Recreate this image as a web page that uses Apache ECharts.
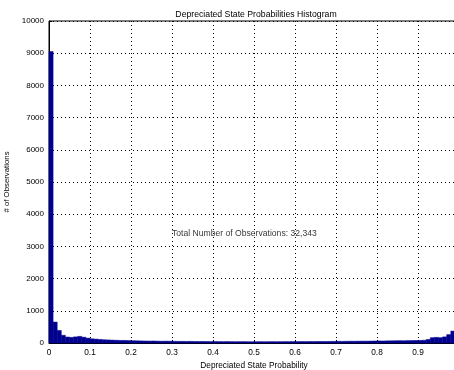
<!DOCTYPE html>
<html>
<head>
<meta charset="utf-8">
<script src="https://cdn.jsdelivr.net/npm/echarts@6/dist/echarts.min.js"></script>
<style>
  html, body { margin: 0; padding: 0; background: #fff; }
  #main { width: 454px; height: 370px; }
</style>
</head>
<body>
<div id="main"></div>
<script>
// histogram: 100 bins of width 0.01 from 0 to 1
const binWidth = 0.01;
const counts = [
  9050, 650, 390, 240, 185, 175, 190, 205, 180, 150,
  130, 120, 110, 100, 95, 90, 85, 80, 80, 75,
  70, 68, 65, 62, 60, 62, 58, 55, 57, 55,
  52, 50, 50, 48, 50, 47, 46, 48, 45, 44,
  45, 43, 42, 44, 42, 40, 41, 42, 40, 39,
  40, 41, 39, 40, 42, 40, 41, 43, 42, 44,
  43, 45, 44, 46, 45, 47, 48, 46, 49, 50,
  52, 50, 53, 55, 54, 56, 58, 57, 60, 62,
  64, 63, 66, 68, 70, 72, 70, 74, 76, 78,
  80, 85, 110, 165, 175, 165, 190, 260, 370, 400
];
const xTicks = [0, 0.1, 0.2, 0.3, 0.4, 0.5, 0.6, 0.7, 0.8, 0.9];
const yTicks = [0, 1000, 2000, 3000, 4000, 5000, 6000, 7000, 8000, 9000, 10000];
const noteText = 'Total Number of Observations: 32,343';
const notePos = [0.3, 3400];

const font = 'Liberation Sans, Arial, sans-serif';
const barColor = '#00008F';

const chart = echarts.init(document.getElementById('main'));

const histData = counts.map((c, i) => [i * binWidth, (i + 1) * binWidth, c]);

chart.setOption({
  animation: false,
  title: {
    text: 'Depreciated State Probabilities Histogram',
    left: 251, top: 5, textAlign: 'center',
    textStyle: {fontFamily: font, fontSize: 8.7, fontWeight: 'normal', color: '#000'}
  },
  grid: {
    left: 49, top: 21, bottom: 27, right: -5,
    containLabel: false, outerBoundsMode: 'none',
    show: true, borderColor: '#000', borderWidth: 1, backgroundColor: '#fff'
  },
  xAxis: {
    type: 'value', min: 0, max: 1, interval: 0.1,
    name: 'Depreciated State Probability', nameLocation: 'middle', nameGap: 19,
    nameTextStyle: {fontFamily: font, fontSize: 8.3, color: '#000'},
    axisLine: {show: true, lineStyle: {color: '#000', width: 1}},
    axisTick: {show: true, inside: true, length: 3, lineStyle: {color: '#000'}},
    axisLabel: {
      fontFamily: font, fontSize: 8.3, color: '#000', margin: 6,
      formatter: v => xTicks.includes(+v.toFixed(1)) ? String(+v.toFixed(1)) : ''
    },
    splitLine: {show: true, lineStyle: {color: '#000', type: [1, 3], width: 1}}
  },
  yAxis: {
    type: 'value', min: 0, max: 10000, interval: 1000,
    name: '# of Observations', nameLocation: 'middle', nameGap: 37, nameRotate: 90,
    nameTextStyle: {fontFamily: font, fontSize: 7.8, color: '#000'},
    axisLine: {show: true, lineStyle: {color: '#000', width: 1}},
    axisTick: {show: true, inside: true, length: 3, lineStyle: {color: '#000'}},
    axisLabel: {
      fontFamily: font, fontSize: 8, color: '#000', margin: 5,
      formatter: v => yTicks.includes(v) ? String(v) : ''
    },
    splitLine: {show: true, lineStyle: {color: '#000', type: [1, 3], width: 1}}
  },
  series: [
    {
      type: 'custom',
      data: histData,
      encode: {x: [0, 1], y: 2},
      renderItem: function (params, api) {
        const p0 = api.coord([api.value(0), api.value(2)]);
        const p1 = api.coord([api.value(1), 0]);
        return {
          type: 'rect',
          shape: {x: p0[0], y: p0[1], width: p1[0] - p0[0], height: p1[1] - p0[1]},
          style: {fill: barColor, stroke: barColor, lineWidth: 0.5}
        };
      },
      z: 3
    },
    {
      type: 'scatter',
      data: [notePos],
      symbolSize: 0,
      silent: true,
      label: {
        show: true, position: 'right', distance: 0,
        formatter: noteText,
        fontFamily: font, fontSize: 8.6, color: '#000'
      },
      z: 4
    }
  ]
});
</script>
</body>
</html>
